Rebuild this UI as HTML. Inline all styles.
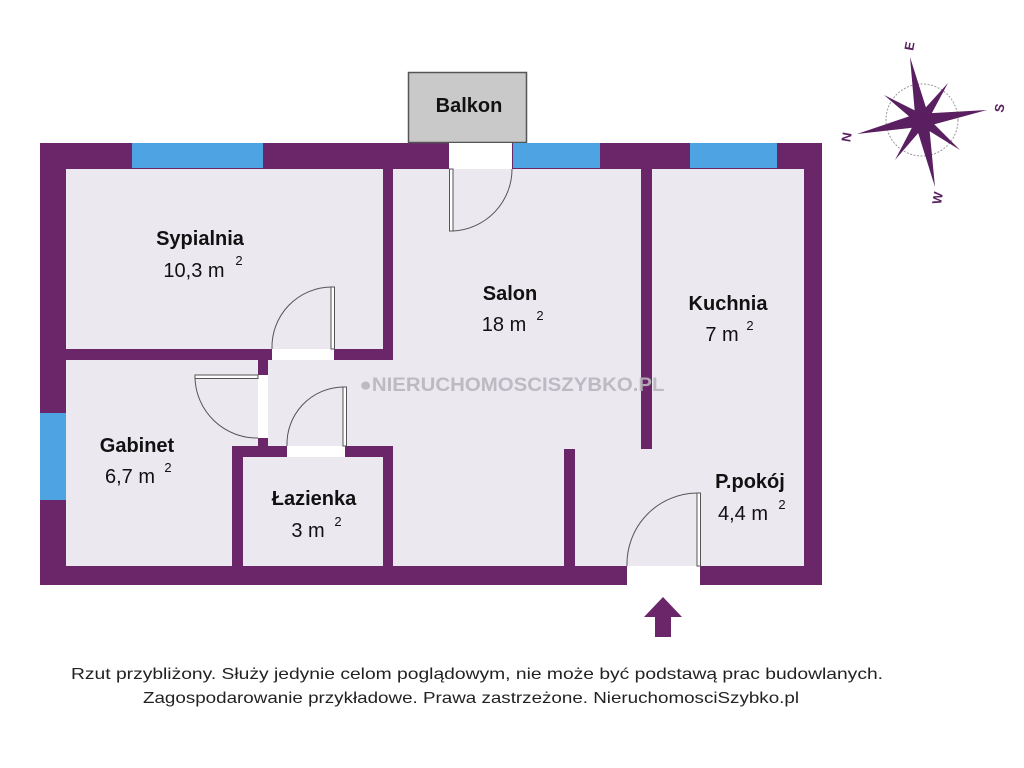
<!DOCTYPE html>
<html><head><meta charset="utf-8"><style>
html,body{margin:0;padding:0;background:#fff;width:1024px;height:768px;overflow:hidden}
svg{display:block}
text{font-family:"Liberation Sans","DejaVu Sans",sans-serif}
</style></head><body>
<svg width="1024" height="768" viewBox="0 0 1024 768" xmlns="http://www.w3.org/2000/svg">
<rect x="40" y="143" width="782" height="442" fill="#6a2669"/>
<rect x="66" y="169" width="738" height="397" fill="#ebe8f0"/>
<rect x="408.5" y="72.5" width="118" height="70" fill="#c9c9c9" stroke="#555" stroke-width="1.5"/>
<text x="469" y="112" font-size="20" font-weight="bold" text-anchor="middle" fill="#111">Balkon</text>
<rect x="132" y="143" width="131" height="25" fill="#4ea3e2"/>
<rect x="513" y="143" width="87" height="25" fill="#4ea3e2"/>
<rect x="690" y="143" width="87" height="25" fill="#4ea3e2"/>
<rect x="40" y="413" width="26" height="87" fill="#4ea3e2"/>
<rect x="449" y="143" width="63" height="26" fill="#fff"/>
<rect x="66" y="349" width="327" height="11" fill="#6a2669"/>
<rect x="383" y="169" width="10" height="191" fill="#6a2669"/>
<rect x="258" y="360" width="10" height="86" fill="#6a2669"/>
<rect x="232" y="446" width="161" height="11" fill="#6a2669"/>
<rect x="232" y="446" width="11" height="120" fill="#6a2669"/>
<rect x="383" y="446" width="10" height="120" fill="#6a2669"/>
<rect x="641" y="169" width="11" height="280" fill="#6a2669"/>
<rect x="564" y="449" width="11" height="117" fill="#6a2669"/>
<rect x="272" y="349" width="62" height="11" fill="#fff"/>
<rect x="258" y="375" width="10" height="63" fill="#fff"/>
<rect x="287" y="446" width="58" height="11" fill="#fff"/>
<rect x="627" y="566" width="73" height="19" fill="#fff"/>
<g fill="none" stroke="#555" stroke-width="1">
<rect x="449.5" y="169" width="3.5" height="62" fill="#fff"/>
<path d="M453 231 A62 62 0 0 0 512 169"/>
<rect x="331" y="287" width="3.5" height="62" fill="#fff"/>
<path d="M331 287 A60 60 0 0 0 272 349"/>
<rect x="195" y="375" width="63" height="3.5" fill="#fff"/>
<path d="M195 378 A62 62 0 0 0 258 438"/>
<rect x="343" y="387" width="3.5" height="59" fill="#fff"/>
<path d="M343 387 A57 57 0 0 0 287 446"/>
<rect x="697" y="493" width="3.5" height="73" fill="#fff"/>
<path d="M697 493 A71 71 0 0 0 627 566"/>
</g>
<text x="512" y="391" font-size="19" font-weight="bold" text-anchor="middle" fill="#b9b6bd" textLength="305" lengthAdjust="spacingAndGlyphs" opacity="0.9">●NIERUCHOMOSCISZYBKO.PL</text>
<g fill="#111" text-anchor="middle">
<text x="200" y="245" font-size="20" font-weight="bold">Sypialnia</text>
<text x="194" y="277" font-size="20">10,3 m</text><text x="239" y="265" font-size="13">2</text>
<text x="510" y="300" font-size="20" font-weight="bold">Salon</text>
<text x="504" y="331" font-size="20">18 m</text><text x="540" y="320" font-size="13">2</text>
<text x="728" y="310" font-size="20" font-weight="bold">Kuchnia</text>
<text x="722" y="341" font-size="20">7 m</text><text x="750" y="330" font-size="13">2</text>
<text x="137" y="452" font-size="20" font-weight="bold">Gabinet</text>
<text x="130" y="483" font-size="20">6,7 m</text><text x="168" y="472" font-size="13">2</text>
<text x="314" y="505" font-size="20" font-weight="bold">Łazienka</text>
<text x="308" y="537" font-size="20">3 m</text><text x="338" y="526" font-size="13">2</text>
<text x="750" y="488" font-size="20" font-weight="bold">P.pokój</text>
<text x="743" y="520" font-size="20">4,4 m</text><text x="782" y="509" font-size="13">2</text>
</g>
<polygon points="663,597 682,617 671,617 671,637 655,637 655,617 644,617" fill="#6a2669"/>
<g>
<circle cx="922" cy="120" r="36" fill="none" stroke="#999" stroke-width="1" stroke-dasharray="2,1.5"/>
<polygon points="910,57 928,114 922,120 916,126" fill="#5a1f60"/>
<polygon points="987,110 928,126 922,120 916,114" fill="#5a1f60"/>
<polygon points="857,134 916,114 922,120 928,126" fill="#5a1f60"/>
<polygon points="935,187 916,126 922,120 928,114" fill="#5a1f60"/>
<polygon points="948,83 926,124 922,120 918,116" fill="#5a1f60"/>
<polygon points="884,95 918,124 922,120 926,116" fill="#5a1f60"/>
<polygon points="895,160 918,116 922,120 926,124" fill="#5a1f60"/>
<polygon points="960,150 926,116 922,120 918,124" fill="#5a1f60"/>
<text x="909" y="51" font-size="13" font-weight="bold" fill="#5a1f60" text-anchor="middle" transform="rotate(-80 909 46)">E</text>
<text x="999" y="113" font-size="13" font-weight="bold" fill="#5a1f60" text-anchor="middle" transform="rotate(-80 999 108)">S</text>
<text x="846" y="142" font-size="13" font-weight="bold" fill="#5a1f60" text-anchor="middle" transform="rotate(-80 846 137)">N</text>
<text x="937" y="203" font-size="13" font-weight="bold" fill="#5a1f60" text-anchor="middle" transform="rotate(-80 937 198)">W</text>
</g>
<text x="477" y="679" font-size="16" fill="#222" text-anchor="middle" textLength="812" lengthAdjust="spacingAndGlyphs">Rzut przybliżony. Służy jedynie celom poglądowym, nie może być podstawą prac budowlanych.</text>
<text x="471" y="703" font-size="16" fill="#222" text-anchor="middle" textLength="656" lengthAdjust="spacingAndGlyphs">Zagospodarowanie przykładowe. Prawa zastrzeżone. NieruchomosciSzybko.pl</text>
</svg>
</body></html>
